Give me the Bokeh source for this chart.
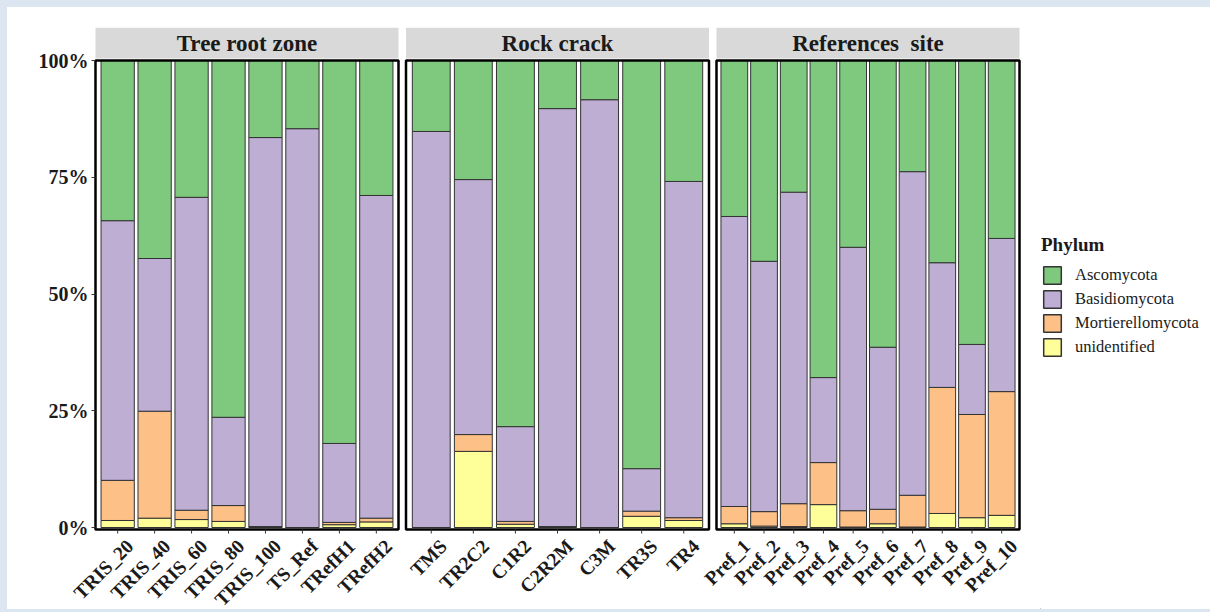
from bokeh.plotting import figure
from bokeh.models import (Legend, LegendItem, FixedTicker, ColumnDataSource, LabelSet, Range1d)
from bokeh.layouts import row
from bokeh.embed import file_html
from bokeh.resources import INLINE
from math import pi

phyla = ["unidentified", "Mortierellomycota", "Basidiomycota", "Ascomycota"]
colors = ["#FFFF99", "#FDC086", "#BEAED4", "#7FC97F"]

# Tree root zone
tree_samples = ["TRIS_20", "TRIS_40", "TRIS_60", "TRIS_80", "TRIS_100", "TS_Ref", "TRefH1", "TRefH2"]
tree_unid = [1.5, 2.0, 1.7, 1.3, 0.1, 0.0, 0.6, 1.2]
tree_mort = [8.6, 22.9, 2.0, 3.4, 0.1, 0.0, 0.5, 0.8]
tree_basid = [55.6, 32.7, 67.0, 18.9, 83.3, 85.4, 16.9, 69.1]
tree_asco = [34.3, 42.4, 29.3, 76.4, 16.5, 14.6, 82.0, 28.9]

# Rock crack
rock_samples = ["TMS", "TR2C2", "C1R2", "C2R2M", "C3M", "TR3S", "TR4"]
rock_unid = [0.0, 16.3, 0.7, 0.1, 0.0, 2.4, 1.5]
rock_mort = [0.0, 3.6, 0.6, 0.1, 0.0, 1.1, 0.6]
rock_basid = [84.8, 54.6, 20.3, 89.5, 91.6, 9.1, 72.0]
rock_asco = [15.2, 25.5, 78.4, 10.3, 8.4, 87.4, 25.9]

# References site
ref_samples = ["Pref_1", "Pref_2", "Pref_3", "Pref_4", "Pref_5", "Pref_6", "Pref_7", "Pref_8", "Pref_9", "Pref_10"]
ref_unid = [0.8, 0.3, 0.2, 4.9, 0.1, 0.8, 0.1, 3.0, 2.1, 2.6]
ref_mort = [3.7, 3.1, 4.9, 9.0, 3.5, 3.1, 6.8, 27.0, 22.1, 26.5]
ref_basid = [62.1, 53.6, 66.7, 18.2, 56.4, 34.7, 69.3, 26.7, 15.0, 32.8]
ref_asco = [33.4, 43.0, 28.2, 67.9, 40.0, 61.4, 23.8, 43.3, 60.8, 38.1]

panel_titles = ["Tree root zone", "Rock crack", "References\u00a0 site"]
y_ticks = [0, 25, 50, 75, 100]
y_labels = ["0%", "25%", "50%", "75%", "100%"]

panels = [
    (tree_samples, tree_unid, tree_mort, tree_basid, tree_asco),
    (rock_samples, rock_unid, rock_mort, rock_basid, rock_asco),
    (ref_samples, ref_unid, ref_mort, ref_basid, ref_asco),
]

# ---- layout constants (pixels) ----
FONT = "Liberation Serif"
TXT = "#1a1a1a"
EDGE = "#333333"
PANEL_W = 303.0          # width of each facet panel
GAP = 7.5                # gap between facet panels
PLOT_H_PX = 467.0        # pixels from 0% to 100%
HEAD_GAP_PX = 2.0        # gap between strip and panel
HEAD_PX = 31.0           # strip height
BOT_PX = 2.0             # panel space below 0%
TICK_PX = 4.0
LABEL_DROP_PX = 8.0      # label anchor below 0%
PPU = PLOT_H_PX / 100.0  # pixels per percent

LEFT = 20                # canvas border left of the drawing area
PAD_L = 68               # drawing area left of the first panel (y labels, x labels)
PAD_R = 21               # drawing area right of the last panel (x labels)
TOP = 20
TOTAL_H = 602
PANELS_W = 3 * PANEL_W + 2 * GAP
FRAME_W = int(PAD_L + PANELS_W + PAD_R)
MAIN_W = LEFT + FRAME_W
LEG_W = 1203 - MAIN_W
BELOW_PX = TOTAL_H - TOP - (PLOT_H_PX + HEAD_GAP_PX + HEAD_PX)

y_start = -BELOW_PX / PPU
y_end = 100 + (HEAD_GAP_PX + HEAD_PX) / PPU
head_bottom = 100 + HEAD_GAP_PX / PPU
panel_bottom = -BOT_PX / PPU

# ---- build bar table through computed facet scales ----
cols = {k: [] for k in ["sample", "x", "w"] + phyla}
panel_left, panel_right, panel_mid = [], [], []
for k, (samples, unid, mort, basid, asco) in enumerate(panels):
    n = len(samples)
    left = k * (PANEL_W + GAP)
    unit = PANEL_W / (n + 0.2)
    panel_left.append(left)
    panel_right.append(left + PANEL_W)
    panel_mid.append(left + PANEL_W / 2)
    for i, s in enumerate(samples):
        cols["sample"].append(s)
        cols["x"].append(left + (i + 0.6) * unit)
        cols["w"].append(0.9 * unit)
    cols["unidentified"] += unid
    cols["Mortierellomycota"] += mort
    cols["Basidiomycota"] += basid
    cols["Ascomycota"] += asco
src = ColumnDataSource(cols)

p = figure(width=MAIN_W, height=TOTAL_H,
           x_range=Range1d(-PAD_L, PANELS_W + PAD_R), y_range=Range1d(y_start, y_end),
           output_backend="svg", toolbar_location=None, x_axis_location=None,
           min_border_left=LEFT, min_border_right=0, min_border_top=TOP, min_border_bottom=0)
p.xgrid.visible = False
p.ygrid.visible = False
p.outline_line_color = None
p.background_fill_color = "white"
p.border_fill_color = "white"

p.vbar_stack(phyla, x="x", width="w", source=src, color=colors, line_color=EDGE, line_width=1)

# facet strips and panel borders
strip_src = ColumnDataSource(dict(left=panel_left, right=panel_right, mid=panel_mid, title=panel_titles))
p.quad(left="left", right="right", bottom=head_bottom, top=y_end, source=strip_src,
       fill_color="#D9D9D9", line_color=None)
p.quad(left="left", right="right", bottom=panel_bottom, top=100, source=strip_src,
       fill_color=None, line_color="black", line_width=2.5)
p.add_layout(LabelSet(x="mid", y=(head_bottom + y_end) / 2, text="title", source=strip_src,
                      text_align="center", text_baseline="middle", text_font=FONT,
                      text_font_style="bold", text_font_size="23px", text_color=TXT))

# x ticks and rotated sample labels
p.segment(x0="x", x1="x", y0=panel_bottom, y1=panel_bottom - TICK_PX / PPU, source=src,
          line_color=EDGE, line_width=1)
p.add_layout(LabelSet(x="x", y=-LABEL_DROP_PX / PPU, text="sample", source=src,
                      x_offset=5, angle=pi / 4, text_align="right", text_baseline="top",
                      text_font=FONT, text_font_style="bold", text_font_size="19.5px",
                      text_color=TXT))

# y axis fixed at the left edge of the first panel
ya = p.yaxis[0]
ya.fixed_location = 0
ya.ticker = FixedTicker(ticks=y_ticks)
ya.major_label_overrides = {t: l for t, l in zip(y_ticks, y_labels)}
ya.axis_line_color = None
ya.major_tick_out = 4
ya.major_tick_in = 0
ya.minor_tick_out = 0
ya.minor_tick_in = 0
ya.major_tick_line_color = EDGE
ya.major_label_text_font = FONT
ya.major_label_text_font_style = "bold"
ya.major_label_text_font_size = "20px"
ya.major_label_text_color = TXT
ya.major_label_standoff = 3

# ---- legend panel ----
lg = figure(width=LEG_W, height=TOTAL_H, x_range=(0, 1), y_range=(0, 1),
            output_backend="svg", toolbar_location=None,
            x_axis_location=None, y_axis_location=None, min_border=0)
lg.xgrid.visible = False
lg.ygrid.visible = False
lg.outline_line_color = None
lg.background_fill_color = "white"
lg.border_fill_color = "white"
items = []
for ph, c in zip(phyla, colors):
    # key glyph only: its bar sits outside the visible range
    r = lg.vbar(x=[-5], top=[-5], bottom=[-6], width=0.1, fill_color=c, line_color=EDGE, line_width=1.5)
    items.append(LegendItem(label=ph, renderers=[r]))
items = items[::-1]
legend = Legend(items=items, title="Phylum", location=(1, 251))
legend.title_text_font = FONT
legend.title_text_font_style = "bold"
legend.title_text_font_size = "19px"
legend.title_text_color = TXT
legend.title_standoff = 8
legend.label_text_font = FONT
legend.label_text_font_size = "16.5px"
legend.label_text_color = TXT
legend.glyph_width = 22
legend.glyph_height = 22
legend.label_height = 22
legend.label_standoff = 12
legend.spacing = 2
legend.padding = 0
legend.margin = 0
legend.border_line_color = None
legend.background_fill_color = None
lg.add_layout(legend)

layout = row(p, lg, styles={"background-color": "white"})

html = file_html(layout, INLINE)
html = html.replace("</head>",
                    "<style>html, body { background-color: #DCE6F1; } "
                    "body { padding: 7px 0 0 7px !important; }</style></head>", 1)
open("out.html", "w").write(html)
